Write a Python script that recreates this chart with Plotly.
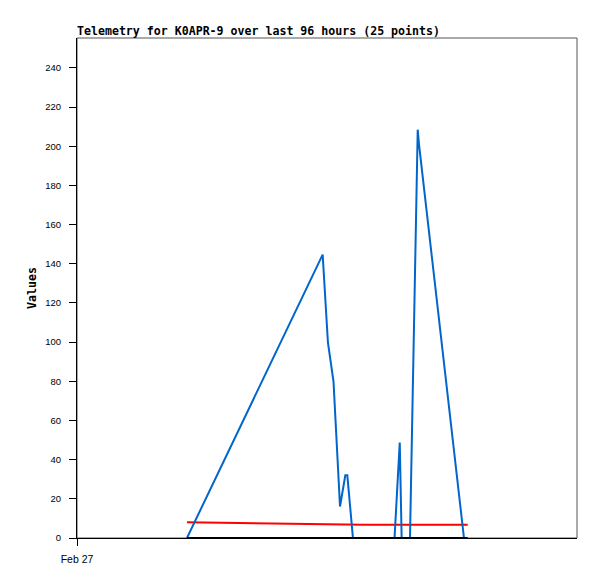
"""
Telemetry line chart for K0APR-9, last 96 hours
"""
import plotly.graph_objects as go
import pandas as pd

# Sample times (25 points)
times = [
    "2023-02-27 21:07", "2023-02-28 23:10", "2023-03-01 00:11", "2023-03-01 01:15",
    "2023-03-01 02:30", "2023-03-01 03:31", "2023-03-01 03:54", "2023-03-01 04:59",
    "2023-03-01 05:30", "2023-03-01 06:00", "2023-03-01 07:00", "2023-03-01 08:00",
    "2023-03-01 09:00", "2023-03-01 10:00", "2023-03-01 11:00", "2023-03-01 12:00",
    "2023-03-01 12:58", "2023-03-01 13:58", "2023-03-01 14:20", "2023-03-01 15:00",
    "2023-03-01 15:56", "2023-03-01 17:25", "2023-03-01 17:40", "2023-03-02 02:18",
    "2023-03-02 03:01",
]

# Channel values
blue_values = [0, 144.7, 99.7, 79.8, 16.1, 32, 32, 0,
               0, 0, 0, 0, 0, 0, 0, 0,
               0, 48.7, 0, 0, 0, 208.5, 201, 0, 0]
red_values = [8.0] + [6.8] * 24
black_values = [0] * 25

x = pd.to_datetime(times)
x_start = pd.Timestamp("2023-02-27 00:00")
x_end = pd.Timestamp("2023-03-03 00:00")

# page body adds an 8px offset, so the figure is a bit smaller than the window
W, H = 589, 571

fig = go.Figure()

fig.add_trace(go.Scatter(x=x, y=red_values, mode="lines",
                         line=dict(color="#ff0000", width=2)))
fig.add_trace(go.Scatter(x=x, y=blue_values, mode="lines",
                         line=dict(color="#0066cc", width=2)))
fig.add_trace(go.Scatter(x=x, y=black_values, mode="lines",
                         line=dict(color="#000000", width=2)))

# gray frame round the plot area (top/right edges)
fig.add_shape(type="rect", xref="paper", yref="paper", x0=0, x1=1, y0=0, y1=1,
              line=dict(color="#555555", width=1), layer="below")

fig.update_layout(
    width=W, height=H,
    margin=dict(l=69, r=20, t=30, b=41),
    paper_bgcolor="white", plot_bgcolor="white",
    showlegend=False,
    title=dict(
        text="Telemetry for K0APR-9 over last 96 hours (25 points)",
        x=69 / W, xanchor="left", y=1 - 23 / H, yanchor="middle",
        font=dict(family="DejaVu Sans Mono", size=11.6, color="black", weight="bold"),
    ),
)

fig.update_xaxes(
    range=[x_start, x_end],
    tickvals=[x_start], ticktext=["Feb 27"],
    ticks="outside", ticklen=7, tickcolor="black",
    showline=True, linecolor="black", linewidth=1,
    showgrid=False, zeroline=False,
    tickfont=dict(family="Liberation Sans", size=10.5, color="black"),
    ticklabelstandoff=4,
    automargin=False,
)

fig.update_yaxes(
    range=[0, 255.3],
    tickvals=list(range(0, 241, 20)),
    ticks="outside", ticklen=7, tickcolor="black",
    showline=True, linecolor="black", linewidth=1,
    showgrid=False, zeroline=False,
    tickfont=dict(family="Liberation Sans", size=9.5, color="black"),
    ticklabelstandoff=6,
    title=dict(text="Values", standoff=6,
               font=dict(family="DejaVu Sans Mono", size=11.6, color="black", weight="bold")),
    automargin=False,
)

fig.write_html("out.html")
